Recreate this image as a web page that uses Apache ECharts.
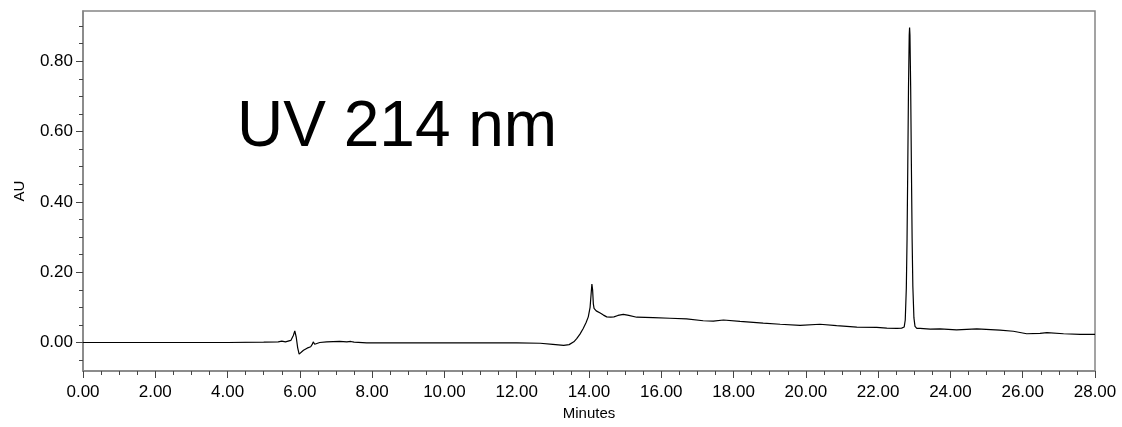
<!DOCTYPE html>
<html>
<head>
<meta charset="utf-8">
<script src="https://cdn.jsdelivr.net/npm/echarts@6/dist/echarts.min.js"></script>
<style>
  html, body { margin: 0; padding: 0; background: #fff; }
  #chart { width: 1122px; height: 427px; }
</style>
</head>
<body>
<div id="chart"></div>
<script>
// retention time (min) and detector response (AU)
const minutes = [
  0.00, 1.00, 2.00, 3.00, 4.00, 5.00, 5.40, 5.50, 5.60, 5.75,
  5.82, 5.86, 5.90, 5.94, 5.98, 6.03, 6.10, 6.20, 6.30, 6.35,
  6.37, 6.41, 6.45, 6.55, 6.74, 7.10, 7.30, 7.41, 7.50, 7.85,
  8.50, 9.50, 10.50, 11.50, 12.00, 12.65, 13.00, 13.30, 13.45, 13.58,
  13.66, 13.75, 13.84, 13.92, 13.98, 14.03, 14.06, 14.08, 14.10, 14.12,
  14.14, 14.20, 14.31, 14.40, 14.49, 14.60, 14.69, 14.80, 14.95, 15.10,
  15.32, 15.78, 16.24, 16.70, 17.16, 17.44, 17.72, 18.18, 18.82, 19.29,
  19.84, 20.39, 20.85, 21.41, 21.96, 22.24, 22.52, 22.65, 22.72, 22.75,
  22.78, 22.80, 22.82, 22.84, 22.86, 22.87, 22.88, 22.90, 22.92, 22.94,
  22.96, 22.99, 23.02, 23.07, 23.16, 23.44, 23.71, 24.17, 24.73, 25.37,
  25.74, 26.11, 26.48, 26.67, 27.13, 27.59, 28.00
];
const absorbance = [
  0.000, 0.000, 0.000, 0.000, 0.000, 0.001, 0.002, 0.004, 0.002, 0.006,
  0.020, 0.033, 0.015, -0.015, -0.033, -0.030, -0.022, -0.016, -0.012, -0.004,
  0.002, -0.005, -0.004, 0.000, 0.002, 0.003, 0.002, 0.003, 0.001, -0.001,
  -0.001, -0.001, -0.001, -0.001, -0.001, -0.002, -0.005, -0.008, -0.006, 0.002,
  0.011, 0.024, 0.040, 0.057, 0.073, 0.100, 0.140, 0.166, 0.150, 0.110,
  0.097, 0.090, 0.084, 0.078, 0.073, 0.072, 0.073, 0.077, 0.080, 0.077,
  0.072, 0.071, 0.069, 0.067, 0.062, 0.061, 0.064, 0.060, 0.055, 0.052,
  0.049, 0.052, 0.048, 0.044, 0.043, 0.041, 0.040, 0.041, 0.044, 0.064,
  0.156, 0.295, 0.502, 0.725, 0.875, 0.896, 0.875, 0.725, 0.502, 0.295,
  0.160, 0.070, 0.046, 0.040, 0.040, 0.038, 0.039, 0.036, 0.039, 0.035,
  0.032, 0.025, 0.026, 0.028, 0.025, 0.023, 0.023
];

const yTickLabels = [0, 0.2, 0.4, 0.6, 0.8];
const yMinorTicks = [-0.05, 0.05, 0.1, 0.15, 0.25, 0.3, 0.35, 0.45, 0.5, 0.55,
                     0.65, 0.7, 0.75, 0.85, 0.9];
const annotation = 'UV 214 nm';

const trace = minutes.map((t, i) => [t, absorbance[i]]);

const font = '"Liberation Sans", Arial, sans-serif';
const axisGrey = '#858585';

const myChart = echarts.init(document.getElementById('chart'));

const option = {
    animation: false,
    backgroundColor: '#fff',
    grid: {
        left: 83, right: 27, top: 11, bottom: 56,
        show: true,
        borderColor: axisGrey,
        borderWidth: 1.5
    },
    graphic: [
        {
            type: 'text',
            left: 237,
            top: 96,
            style: { text: annotation, font: '64px ' + font, fill: '#000' }
        }
    ],
    xAxis: {
        type: 'value',
        min: 0,
        max: 28,
        interval: 2,
        name: 'Minutes',
        nameLocation: 'middle',
        nameGap: 34,
        nameTextStyle: { color: '#000', fontSize: 15, fontFamily: font },
        axisLine: { show: true, onZero: false, lineStyle: { color: axisGrey, width: 1.5 } },
        axisTick: { show: true, length: 7, lineStyle: { color: '#444' } },
        minorTick: { show: true, splitNumber: 4, length: 4, lineStyle: { color: '#444' } },
        axisLabel: {
            color: '#000', fontSize: 17, fontFamily: font, margin: 13,
            formatter: v => v.toFixed(2)
        },
        splitLine: { show: false }
    },
    yAxis: [
        {
            type: 'value',
            min: -0.081,
            max: 0.943,
            position: 'left',
            name: 'AU',
            nameLocation: 'middle',
            nameGap: 56,
            nameTextStyle: { color: '#000', fontSize: 15, fontFamily: font },
            axisLine: { show: true, onZero: false, lineStyle: { color: axisGrey, width: 1.5 } },
            axisTick: { show: true, length: 7, customValues: yTickLabels, lineStyle: { color: '#444' } },
            axisLabel: {
                color: '#000', fontSize: 17, fontFamily: font, margin: 10,
                customValues: yTickLabels,
                formatter: v => v.toFixed(2)
            },
            splitLine: { show: false }
        },
        {
            // short minor ticks every 0.05 AU
            type: 'value',
            min: -0.081,
            max: 0.943,
            position: 'left',
            axisLine: { show: false },
            axisTick: { show: true, length: 4, customValues: yMinorTicks, lineStyle: { color: '#444' } },
            axisLabel: { show: false },
            splitLine: { show: false }
        }
    ],
    series: [
        {
            name: annotation,
            type: 'line',
            yAxisIndex: 0,
            data: trace,
            showSymbol: false,
            symbol: 'none',
            lineStyle: { color: '#000', width: 1.2 },
            z: 3
        }
    ]
};

myChart.setOption(option);
window.addEventListener('resize', myChart.resize);
</script>
</body>
</html>
